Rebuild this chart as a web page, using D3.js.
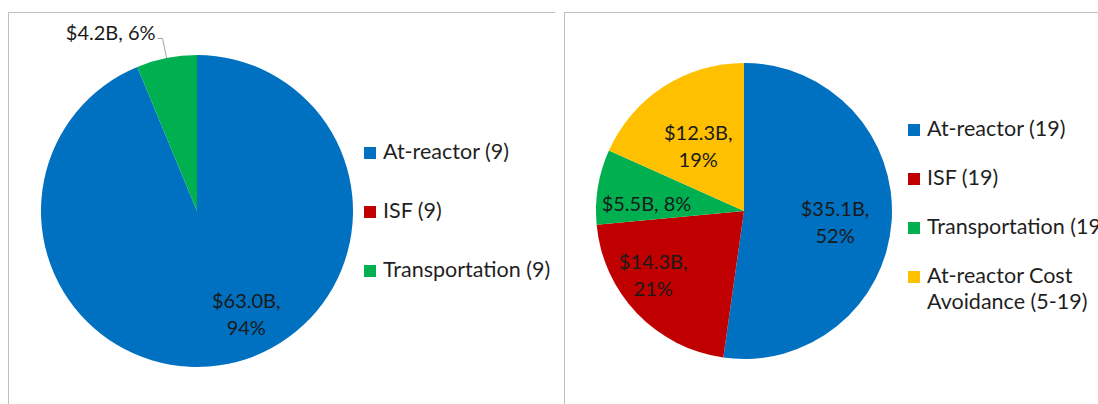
<!DOCTYPE html>
<html>
<head>
<meta charset="utf-8">
<script src="https://cdn.jsdelivr.net/npm/d3@7"></script>
<style>
  body { margin: 0; background: #fff; }
  svg { display: block; font-family: Lato, "Open Sans", sans-serif; }
</style>
</head>
<body>
<svg id="chart" width="1098" height="404"></svg>
<script>
// data ($B)
const leftCategories = ["At-reactor (9)", "ISF (9)", "Transportation (9)"];
const leftValues = [63.0, 0, 4.2];
const leftPercents = ["94%", "0%", "6%"];

const rightCategories = ["At-reactor (19)", "ISF (19)", "Transportation (19)", "At-reactor Cost Avoidance (5-19)"];
const rightValues = [35.1, 14.3, 5.5, 12.3];
const rightPercents = ["52%", "21%", "8%", "19%"];

const colors = ["#0070C0", "#C00000", "#00B050", "#FFC000"];

const labelSize = 20;
const legendSize = 21.5;

const svg = d3.select("#chart");

// panel frames
const frame = (x, y, x2) => {
  svg.append("line").attr("x1", x + 0.5).attr("x2", x + 0.5).attr("y1", y).attr("y2", 404)
    .attr("stroke", "#bfbfbf");
  svg.append("line").attr("x1", x).attr("x2", x2).attr("y1", y + 0.5).attr("y2", y + 0.5)
    .attr("stroke", "#bfbfbf");
};
frame(8, 12, 555);
frame(564, 12, 1098);

// label layout per slice: { r: radius fraction, shift: degrees, two: two lines, outside: leader }
const drawPie = (opts) => {
  const { cx, cy, r, categories, values, percents, labelLayout, legend } = opts;
  const g = svg.append("g").attr("transform", `translate(${cx},${cy})`);
  const pie = d3.pie().sort(null).value((d) => d)(values);
  const arc = d3.arc().innerRadius(0).outerRadius(r);

  g.selectAll("path.slice")
    .data(pie)
    .enter()
    .append("path")
    .attr("class", "slice")
    .attr("d", arc)
    .attr("fill", (d, i) => colors[i]);

  pie.forEach((d, i) => {
    const lay = labelLayout[i];
    if (!lay || d.value === 0) return;
    const amount = "$" + d3.format(".1f")(values[i]) + "B,";
    const midA = (d.startAngle + d.endAngle) / 2;

    if (lay.outside) {
      // label above the slice with a leader line (Excel style)
      const ex = Math.sin(midA) * r;
      const ey = -Math.cos(midA) * r;
      g.append("text")
        .attr("x", ex - 11)
        .attr("y", ey - 18)
        .attr("text-anchor", "end")
        .attr("fill", "#1a1a1a")
        .style("font-size", labelSize + "px")
        .text(amount + " " + percents[i]);
      g.append("polyline")
        .attr("points", `${ex - 9},${ey - 19.5} ${ex - 4},${ey - 19.5} ${ex},${ey}`)
        .attr("fill", "none")
        .attr("stroke", "#a6a6a6")
        .attr("stroke-width", 1);
      return;
    }

    const a = midA + (lay.shift * Math.PI) / 180;
    const x = Math.sin(a) * lay.r * r;
    const y = -Math.cos(a) * lay.r * r;
    const t = g.append("text")
      .attr("text-anchor", "middle")
      .attr("fill", "#1a1a1a")
      .style("font-size", labelSize + "px");
    if (lay.two) {
      t.append("tspan").attr("x", x).attr("y", y - 6).text(amount);
      t.append("tspan").attr("x", x).attr("y", y + 21).text(percents[i]);
    } else {
      t.attr("x", x).attr("y", y + 6).text(amount + " " + percents[i]);
    }
  });

  const lg = svg.append("g").attr("transform", `translate(${legend.x},${legend.y})`);
  categories.forEach((c, i) => {
    const row = lg.append("g").attr("transform", `translate(0,${legend.step * i})`);
    row.append("rect").attr("x", 0).attr("y", -12).attr("width", 12).attr("height", 12)
      .attr("fill", colors[i]);
    const lines = legend.wrap && legend.wrap[i] ? legend.wrap[i] : [c];
    lines.forEach((w, j) => {
      row.append("text").attr("x", legend.gap).attr("y", j * 26)
        .attr("fill", "#1f1f1f")
        .style("font-size", legendSize + "px")
        .text(w);
    });
  });
};

drawPie({
  cx: 197, cy: 211, r: 156,
  categories: leftCategories, values: leftValues, percents: leftPercents,
  labelLayout: [{ r: 0.73, shift: -14.4, two: true }, null, { outside: true }],
  legend: { x: 364, y: 159, step: 59, gap: 19 }
});

drawPie({
  cx: 744, cy: 211, r: 148,
  categories: rightCategories, values: rightValues, percents: rightPercents,
  labelLayout: [
    { r: 0.62, shift: 3, two: true },
    { r: 0.75, shift: 8.6, two: true },
    { r: 0.66, shift: -6, two: false },
    { r: 0.54, shift: -2, two: true }
  ],
  legend: { x: 908, y: 136, step: 49, gap: 19, wrap: [null, null, null, ["At-reactor Cost", "Avoidance (5-19)"]] }
});
</script>
</body>
</html>
